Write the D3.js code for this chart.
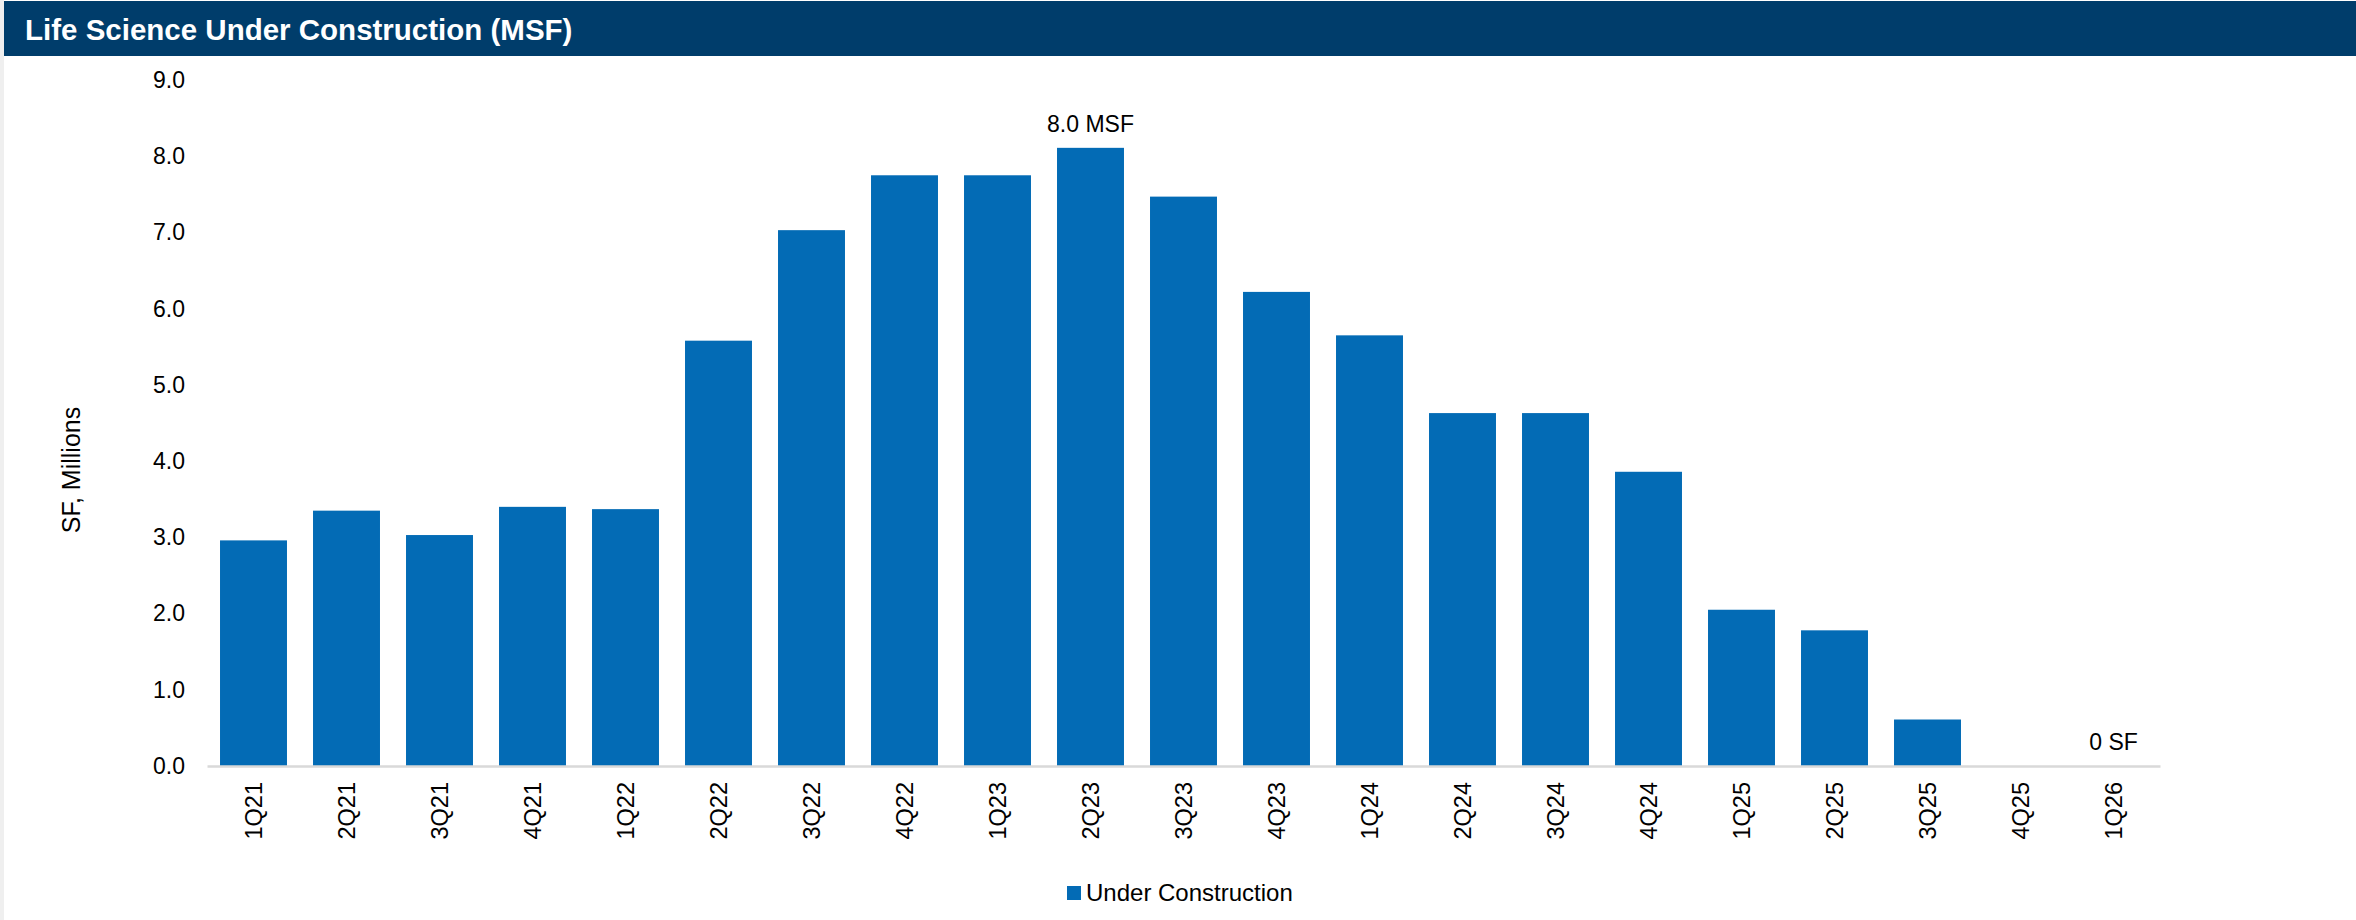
<!DOCTYPE html>
<html>
<head>
<meta charset="utf-8">
<script src="https://cdn.jsdelivr.net/npm/d3@7"></script>
<style>
  body { margin: 0; background: #fff; }
  svg { display: block; font-family: "Liberation Sans", Arial, sans-serif; }
</style>
</head>
<body>
<svg></svg>
<script>
let quarters = ['1Q21','2Q21','3Q21','4Q21','1Q22','2Q22','3Q22','4Q22','1Q23','2Q23','3Q23','4Q23','1Q24','2Q24','3Q24','4Q24','1Q25','2Q25','3Q25','4Q25','1Q26']
let underConstruction = [2.96, 3.35, 3.03, 3.40, 3.37, 5.58, 7.03, 7.75, 7.75, 8.11, 7.47, 6.22, 5.65, 4.63, 4.63, 3.86, 2.05, 1.78, 0.61, 0, 0]
let yTicks = [0, 1, 2, 3, 4, 5, 6, 7, 8, 9]
let labelQuarters = ['2Q23', '1Q26']
let labelTexts = ['8.0 MSF', '0 SF']

let width = 2356
let height = 920
let plotLeft = 207
let plotRight = 2160
let plotTop = 80
let plotBottom = 766

let barColor = '#036bb5'
let headerColor = '#003d6b'

let svg = d3.select('svg')
    .attr('width', width)
    .attr('height', height)

// frame + header band
svg.append('rect')
    .attr('x', 0).attr('y', 0)
    .attr('width', 4).attr('height', height)
    .attr('fill', '#efefef')

svg.append('rect')
    .attr('x', 4).attr('y', 1)
    .attr('width', width - 4).attr('height', 55)
    .attr('fill', headerColor)

svg.append('text')
    .attr('x', 25)
    .attr('y', 40)
    .attr('fill', '#fff')
    .style('font-size', '29.5px')
    .style('font-weight', 'bold')
    .text('Life Science Under Construction (MSF)')

let xScale = d3.scaleBand()
    .domain(quarters)
    .range([plotLeft, plotRight])
    .paddingInner(0.28)
    .paddingOuter(0.14)

let yScale = d3.scaleLinear()
    .domain([0, 9])
    .range([plotBottom, plotTop])

// y axis, labels only
let yAxis = d3.axisLeft(yScale)
    .tickValues(yTicks)
    .tickSize(0)
    .tickPadding(22)
    .tickFormat(d3.format('.1f'))

let yG = svg.append('g')
    .attr('transform', 'translate(' + plotLeft + ',0)')
    .call(yAxis)
yG.select('.domain').remove()
yG.selectAll('text')
    .style('font-size', '23px')
    .style('font-family', '"Liberation Sans", Arial, sans-serif')
    .attr('fill', '#000')

svg.append('text')
    .attr('transform', 'translate(80,470) rotate(-90)')
    .attr('text-anchor', 'middle')
    .style('font-size', '25px')
    .attr('fill', '#000')
    .text('SF, Millions')

// bars
svg.selectAll('.bar')
    .data(underConstruction)
    .enter()
    .append('rect')
    .attr('class', 'bar')
    .attr('x', (d, i) => xScale(quarters[i]))
    .attr('y', (d) => yScale(d))
    .attr('width', xScale.bandwidth())
    .attr('height', (d) => yScale(0) - yScale(d))
    .attr('fill', barColor)

// x axis
let xAxis = d3.axisBottom(xScale).tickSize(0)
let xG = svg.append('g')
    .attr('transform', 'translate(0,' + plotBottom + ')')
    .call(xAxis)
xG.select('.domain')
    .attr('stroke', '#d9d9d9')
    .attr('stroke-width', 2.5)
xG.selectAll('text')
    .attr('transform', 'rotate(-90)')
    .attr('x', -16)
    .attr('y', 0)
    .attr('dy', '0.35em')
    .style('text-anchor', 'end')
    .style('font-size', '23.5px')
    .style('font-family', '"Liberation Sans", Arial, sans-serif')
    .attr('fill', '#000')

// data labels
svg.selectAll('.label')
    .data(labelQuarters)
    .enter()
    .append('text')
    .attr('class', 'label')
    .attr('x', (q) => xScale(q) + xScale.bandwidth() / 2)
    .attr('y', (q) => yScale(underConstruction[quarters.indexOf(q)]) - 16)
    .attr('text-anchor', 'middle')
    .style('font-size', '23px')
    .attr('fill', '#000')
    .text((q, i) => labelTexts[i])

// legend
let legend = svg.append('g')
    .attr('transform', 'translate(1067,886)')
legend.append('rect')
    .attr('width', 14).attr('height', 14)
    .attr('fill', barColor)
legend.append('text')
    .attr('x', 19)
    .attr('y', 7)
    .attr('dy', '0.35em')
    .style('font-size', '24px')
    .attr('fill', '#000')
    .text('Under Construction')
</script>
</body>
</html>
